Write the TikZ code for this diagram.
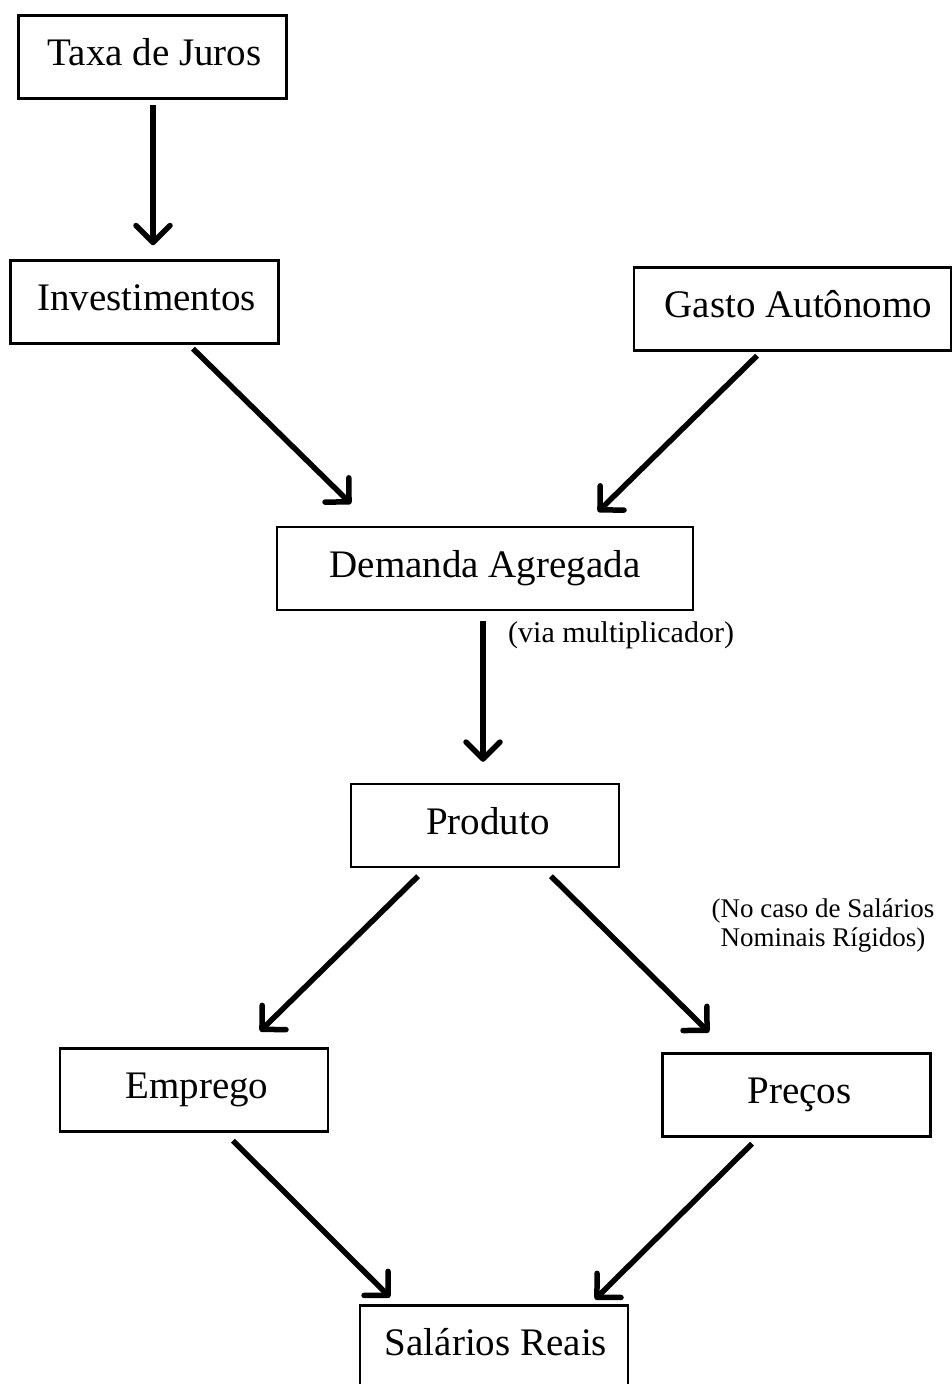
\documentclass[tikz,border=0pt]{standalone}
\usepackage{fontspec}
\setmainfont{Liberation Serif}
\usetikzlibrary{arrows.meta}
\begin{document}
\begin{tikzpicture}[x=1pt,y=-1pt,
  box/.style={draw,line width=2.4pt,minimum width=268pt,minimum height=83pt,inner sep=0pt,
    font=\fontsize{39}{44}\selectfont,text height=27pt,text depth=10pt},
  arr/.style={line width=5.5pt,-{Straight Barb[length=17pt,width=34pt,round]}},
  small/.style={inner sep=0pt,font=\fontsize{30}{34}\selectfont},
  note/.style={inner sep=0pt,align=center,font=\fontsize{27}{28.5}\selectfont}]
\useasboundingbox (0,0) rectangle (952,1384);
\node[box] (taxa) at (152.5,57) {\hspace*{4pt}Taxa de Juros};
\node[box] (inv) at (144.5,302) {\hspace*{4pt}Investimentos};
\node[box,minimum width=317pt] (gasto) at (792.5,309) {\hspace*{12pt}Gasto Autônomo};
\node[box,minimum width=416pt] (da) at (485,568.5) {Demanda Agregada};
\node[box] (prod) at (485,825.5) {\hspace*{6pt}Produto};
\node[box] (emp) at (194,1090) {\hspace*{6pt}Emprego};
\node[box] (prec) at (796.5,1095) {\hspace*{6pt}Preços};
\node[box] (sal) at (494,1347) {\hspace*{4pt}Salários Reais};
\node[small,anchor=base west] (via) at (508,642) {(via multiplicador)};
\node[note,anchor=north] (caso) at (823,899) {(No caso de Salários\\Nominais Rígidos)};
\draw[arr] ([shift={(0.5,5)}]taxa.south) -- ([shift={(8.5,-14)}]inv.north);
\draw[arr] ([shift={(48.5,4)}]inv.south) -- ([shift={(-134,-22)}]da.north);
\draw[arr] ([shift={(-35.5,4)}]gasto.south) -- ([shift={(113,-14)}]da.north);
\draw[arr] ([shift={(-2,10)}]da.south) -- ([shift={(-2,-21)}]prod.north);
\draw[arr] ([shift={(-67,8)}]prod.south) -- ([shift={(66,-16)}]emp.north);
\draw[arr] ([shift={(66,8)}]prod.south) -- ([shift={(-87.5,-20)}]prec.north);
\draw[arr] ([shift={(39,8)}]emp.south) -- ([shift={(-104,-7)}]sal.north);
\draw[arr] ([shift={(-44.5,6)}]prec.south) -- ([shift={(101,-5)}]sal.north);
\end{tikzpicture}
\end{document}
